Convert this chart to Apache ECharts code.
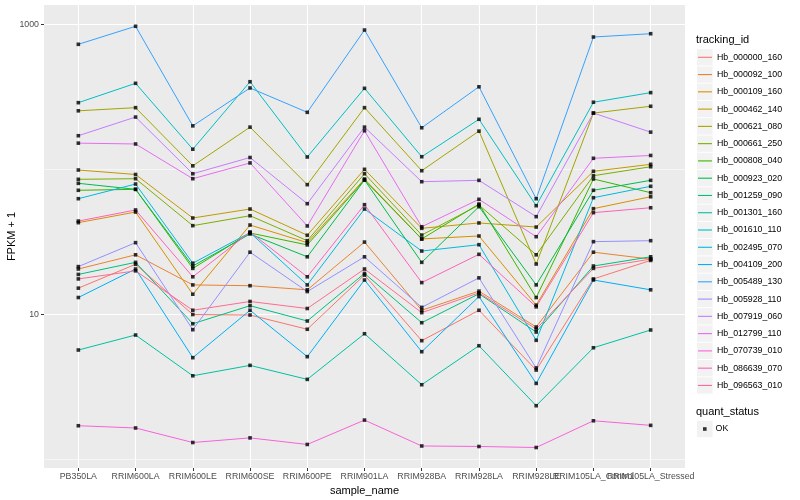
<!DOCTYPE html>
<html><head><meta charset="utf-8">
<script src="https://cdn.jsdelivr.net/npm/echarts@6/dist/echarts.min.js"></script>
<style>html,body{margin:0;padding:0;background:#fff}#c{width:800px;height:500px}</style>
</head><body><div id="c"></div>
<script>
// ---- data ----
const categories = ['PB350LA','RRIM600LA','RRIM600LE','RRIM600SE','RRIM600PE','RRIM901LA','RRIM928BA','RRIM928LA','RRIM928LE','RRIM105LA_Control','RRIM105LA_Stressed'];
const trackingIds = ['Hb_000000_160','Hb_000092_100','Hb_000109_160','Hb_000462_140','Hb_000621_080','Hb_000661_250','Hb_000808_040','Hb_000923_020','Hb_001259_090','Hb_001301_160','Hb_001610_110','Hb_002495_070','Hb_004109_200','Hb_005489_130','Hb_005928_110','Hb_007919_060','Hb_012799_110','Hb_070739_010','Hb_086639_070','Hb_096563_010'];

const hb_000000_160 = [15.2, 22.2, 10.0, 9.92, 7.91, 18.7, 6.60, 10.7, 4.14, 17.6, 23.6];
const hb_000092_100 = [20.6, 25.8, 16.0, 15.8, 14.8, 31.6, 10.7, 14.5, 8.20, 26.9, 24.1];
const hb_000109_160 = [43.0, 50.9, 13.8, 41.4, 31.3, 86.0, 33.2, 34.8, 11.6, 53.7, 64.9];
const hb_000462_140 = [99.2, 92.4, 46.3, 53.4, 35.2, 100.3, 39.3, 42.8, 40.1, 97.2, 108.6];
const hb_000621_080 = [254, 267, 106, 196, 78.6, 267, 98.1, 184, 22.3, 245, 273];
const hb_000661_250 = [85.6, 86.4, 41.0, 48.0, 32.3, 93.5, 35.3, 56.9, 25.8, 90.6, 104.5];
const hb_000808_040 = [71.9, 73.0, 20.8, 36.5, 30.2, 84.6, 33.2, 57.8, 13.1, 86.0, 69.2];
const hb_000923_020 = [80.3, 73.0, 21.6, 35.9, 25.0, 84.6, 22.9, 55.4, 16.0, 71.9, 84.2];
const hb_001259_090 = [18.9, 22.9, 8.64, 11.5, 9.02, 19.2, 8.78, 13.9, 7.57, 21.6, 25.0];
const hb_001301_160 = [5.69, 7.22, 3.78, 4.46, 3.57, 7.37, 3.28, 6.09, 2.35, 5.90, 7.82];
const hb_001610_110 = [289, 393, 138, 403, 122, 363, 122.5, 222, 56.3, 291, 339];
const hb_002495_070 = [62.9, 79.4, 22.6, 36.7, 16.0, 53.4, 27.4, 30.3, 6.64, 63.9, 76.6];
const hb_004109_200 = [13.1, 20.6, 5.04, 10.7, 5.12, 17.3, 5.54, 13.3, 3.35, 17.3, 14.8];
const hb_005489_130 = [730, 972, 200, 365, 248, 916, 194, 372, 62.9, 820, 864];
const hb_005928_110 = [21.4, 31.3, 7.86, 26.9, 14.4, 25.0, 11.2, 17.9, 4.28, 31.8, 32.3];
const hb_007919_060 = [171, 230, 93.5, 121, 58.1, 196, 82.4, 84.2, 47.3, 245, 181];
const hb_012799_110 = [152, 150, 86.4, 111, 40.8, 185, 40.3, 62.3, 34.4, 119.5, 125];
const hb_070739_010 = [1.71, 1.65, 1.31, 1.41, 1.27, 1.87, 1.24, 1.23, 1.21, 1.85, 1.72];
const hb_086639_070 = [44.1, 52.6, 18.2, 37.1, 18.2, 57.2, 16.6, 26.0, 11.3, 50.4, 54.5];
const hb_096563_010 = [17.6, 20.0, 10.7, 12.3, 11.0, 20.6, 10.3, 14.1, 7.94, 20.8, 24.1];

const yTickLabels = [10, 1000];
const yMinorBreaks = [1, 100];
const quantStatus = ['OK'];
const yTitle = 'FPKM + 1';

// ---- assembly ----
const seriesValues = [hb_000000_160, hb_000092_100, hb_000109_160, hb_000462_140, hb_000621_080, hb_000661_250, hb_000808_040, hb_000923_020, hb_001259_090, hb_001301_160, hb_001610_110, hb_002495_070, hb_004109_200, hb_005489_130, hb_005928_110, hb_007919_060, hb_012799_110, hb_070739_010, hb_086639_070, hb_096563_010];
const palette = ['#F8766D','#EA8331','#D89000','#C09B00','#A3A500','#7CAE00','#39B600','#00BB4E','#00BF7D','#00C1A3','#00BFC4','#00BAE0','#00B0F6','#35A2FF','#9590FF','#C77CFF','#E76BF3','#FA62DB','#FF62BC','#FF6C91'];

const FONT = '"Liberation Sans", Arial, sans-serif';
const catIdx = categories.map((_, i) => i);
const evenIdx = catIdx.filter(i => i % 2 === 0);
const oddIdx = catIdx.filter(i => i % 2 === 1);
const ROW = 17.27;
const GRID_LEFT = 44;

const lineSeries = trackingIds.map((id, k) => ({
  name: id, type: 'line', symbol: 'none', z: 3, xAxisIndex: 0,
  data: seriesValues[k].map((v, i) => [i, v]),
  lineStyle: { color: palette[k], width: 1 },
  itemStyle: { color: palette[k] },
  emphasis: { disabled: true }, silent: true
}));

const okPoints = [];
seriesValues.forEach(arr => arr.forEach((v, i) => okPoints.push([i, v])));
const pointSeries = {
  name: quantStatus[0], type: 'scatter', symbol: 'rect', symbolSize: 3.6, z: 4, xAxisIndex: 0,
  data: okPoints, itemStyle: { color: '#000' }, silent: true, emphasis: { disabled: true }
};

const major = { color: '#FFFFFF', width: 1.1, type: 'solid' };
const minor = { color: '#FFFFFF', width: 0.55, type: 'solid' };
const gridLines = []
  .concat(yMinorBreaks.map(v => ({ yAxis: v, lineStyle: minor })))
  .concat(yTickLabels.map(v => ({ yAxis: v, lineStyle: major })))
  .concat(catIdx.map(i => ({ xAxis: i, lineStyle: major })));
const gridSeries = {
  name: '_grid', type: 'line', data: [], z: 1, silent: true, xAxisIndex: 0,
  markLine: { silent: true, symbol: ['none', 'none'], label: { show: false }, animation: false, z: 1, data: gridLines }
};

const keyBoxes = trackingIds.map((id, k) => ({
  type: 'rect', silent: true, z: 0,
  shape: { x: 697, y: 57.3 + k * ROW - 8.2, width: 15.6, height: 16.4 },
  style: { fill: '#F2F2F2' }
})).concat([{ type: 'rect', silent: true, z: 0, shape: { x: 697, y: 429 - 8.2, width: 15.6, height: 16.4 }, style: { fill: '#F2F2F2' } }]);

const labelStyle = { fontSize: 8.8, color: '#4D4D4D', margin: 4, hideOverlap: false, showMinLabel: true, showMaxLabel: true, fontFamily: FONT,
  formatter: v => categories[Math.round(v)] || '' };

const chart = echarts.init(document.getElementById('c'), null, { renderer: 'canvas' });
chart.setOption({
  animation: false,
  backgroundColor: '#FFFFFF',
  textStyle: { fontFamily: FONT },
  title: [
    { text: 'tracking_id', left: 696, top: 34.5, padding: 0, textStyle: { fontSize: 11, fontWeight: 'normal', color: '#000', fontFamily: FONT } },
    { text: 'quant_status', left: 696, top: 406.5, padding: 0, textStyle: { fontSize: 11, fontWeight: 'normal', color: '#000', fontFamily: FONT } }
  ],
  grid: { left: GRID_LEFT, right: 115, top: 5, bottom: 32, show: true, backgroundColor: '#EBEBEB', borderWidth: 0,
    containLabel: false, outerBoundsMode: 'none' },
  xAxis: [
    {
      type: 'value', min: -0.6, max: 10.6, position: 'bottom',
      axisLine: { show: false }, splitLine: { show: false },
      axisTick: { show: true, customValues: catIdx, length: 3, lineStyle: { color: '#333333', width: 1 } },
      axisLabel: Object.assign({ customValues: evenIdx }, labelStyle),
      name: 'sample_name', nameLocation: 'middle', nameGap: 14,
      nameTextStyle: { fontSize: 11, color: '#000', fontFamily: FONT }
    },
    {
      type: 'value', min: -0.6, max: 10.6, position: 'bottom', offset: 0,
      axisLine: { show: false }, splitLine: { show: false }, axisTick: { show: false },
      axisLabel: Object.assign({ customValues: oddIdx }, labelStyle)
    }
  ],
  yAxis: {
    type: 'log', logBase: 10, min: 0.874, max: 1363,
    axisLine: { show: false }, splitLine: { show: false }, axisTick: { show: false }, minorTick: { show: false },
    axisLabel: {
      formatter: v => { const t = yTickLabels.find(t => Math.abs(v - t) < 1e-6 * t); return t ? String(t) : ''; },
      fontSize: 8.8, color: '#4D4D4D', margin: 5, fontFamily: FONT, showMinLabel: true, showMaxLabel: true
    }
  },
  legend: [
    { data: trackingIds, orient: 'vertical', left: 698, top: 57.3 - ROW / 2, itemWidth: 14, itemHeight: 1.1, itemGap: 0, padding: 0,
      icon: 'rect', selectedMode: false,
      textStyle: { fontSize: 8.8, color: '#000', fontFamily: FONT, lineHeight: ROW, padding: [0, 0, 0, 0] } },
    { data: quantStatus, orient: 'vertical', left: 703, top: 429 - ROW / 2, itemWidth: 3.6, itemHeight: 3.6, itemGap: 0, padding: 0, icon: 'rect',
      selectedMode: false, textStyle: { fontSize: 8.8, color: '#000', fontFamily: FONT, lineHeight: ROW, padding: [0, 0, 0, 4] } }
  ],
  graphic: keyBoxes,
  series: [gridSeries].concat(lineSeries).concat([pointSeries])
});

// y-axis tick marks and rotated title, positioned from the laid-out grid
const gridRect = chart.getModel().getComponent('grid', 0).coordinateSystem.getRect();
const yTicks = yTickLabels.map(v => {
  const py = chart.convertToPixel({ yAxisIndex: 0 }, v);
  return { type: 'line', silent: true, z: 5, shape: { x1: gridRect.x - 3, y1: py, x2: gridRect.x, y2: py }, style: { stroke: '#333333', lineWidth: 1 } };
});
const yName = {
  type: 'text', silent: true, z: 5, x: 12, y: gridRect.y + gridRect.height / 2, rotation: Math.PI / 2,
  style: { text: yTitle, align: 'center', verticalAlign: 'middle', fontSize: 11, fill: '#000', fontFamily: FONT }
};
chart.setOption({ graphic: keyBoxes.concat(yTicks).concat([yName]) });
</script>
</body></html>
